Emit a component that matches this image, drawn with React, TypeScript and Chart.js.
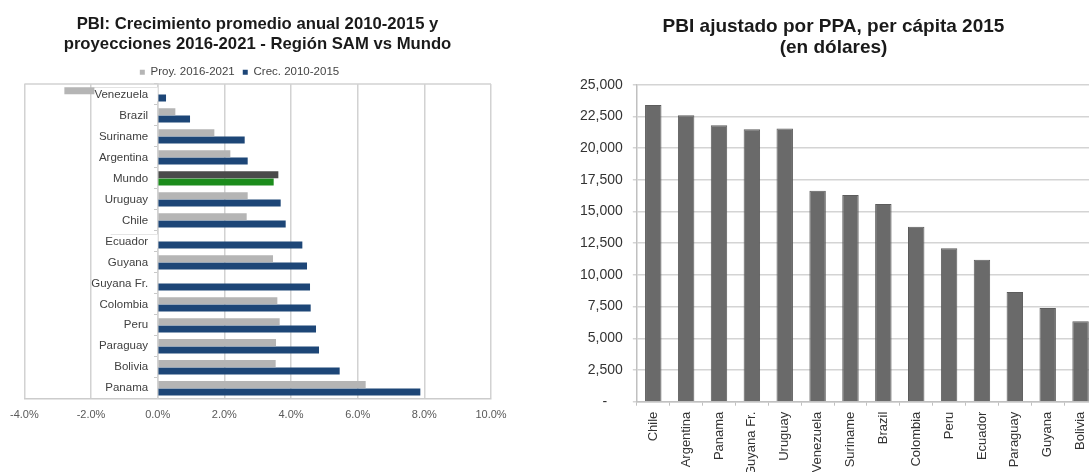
import React, { useEffect, useRef } from "react";
import { Chart, registerables } from "chart.js";

Chart.register(...registerables);

const growthCategories = ["Venezuela", "Brazil", "Suriname", "Argentina", "Mundo", "Uruguay", "Chile", "Ecuador", "Guyana", "Guyana Fr.", "Colombia", "Peru", "Paraguay", "Bolivia", "Panama"];
const proyValues = [-2.8, 0.53, 1.7, 2.18, 3.62, 2.7, 2.67, -1.41, 3.46, null, 3.59, 3.66, 3.55, 3.54, 6.24];
const crecValues = [0.25, 0.97, 2.61, 2.7, 3.48, 3.69, 3.84, 4.34, 4.48, 4.57, 4.59, 4.75, 4.84, 5.46, 7.88];

const pppCategories = ["Chile", "Argentina", "Panama", "Guyana Fr.", "Uruguay", "Venezuela", "Suriname", "Brazil", "Colombia", "Peru", "Ecuador", "Paraguay", "Guyana", "Bolivia"];
const pppValues = [23400, 22600, 21800, 21500, 21550, 16650, 16300, 15600, 13800, 12100, 11200, 8650, 7400, 6350];

const FONT = "'Liberation Sans', Arial, Helvetica, sans-serif";

const legendShift = {
  id: "legendShift",
  afterLayout(chart: any, _args: any, opts: any) {
    const lg = chart.legend;
    if (!lg || !opts) return;
    const dx = opts.dx || 0;
    const dy = opts.dy || 0;
    lg.left += dx;
    lg.right += dx;
    lg.top += dy;
    lg.bottom += dy;
  },
};

const frame = {
  id: "frame",
  beforeDatasetsDraw(chart: any, _args: any, opts: any) {
    if (!opts || !opts.color) return;
    const { ctx, chartArea: a } = chart;
    ctx.save();
    ctx.strokeStyle = opts.color;
    ctx.lineWidth = opts.width || 1;
    ctx.beginPath();
    ctx.moveTo(a.left, a.top);
    ctx.lineTo(a.right, a.top);
    ctx.stroke();
    ctx.restore();
  },
};

const isMundo = (c: any) => c.type === "data" && growthCategories[c.dataIndex] === "Mundo";

function GrowthChart() {
  const ref = useRef<HTMLCanvasElement | null>(null);
  useEffect(() => {
    if (!ref.current) return;
    const chart = new Chart(ref.current, {
      type: "bar",
      data: {
        labels: growthCategories,
        datasets: [
          {
            label: "Proy. 2016-2021",
            data: proyValues as any,
            backgroundColor: (c: any) => (isMundo(c) ? "#4a4a4a" : "#b5b5b5"),
            categoryPercentage: 0.7,
            barPercentage: 0.96,
          },
          {
            label: "Crec. 2010-2015",
            data: crecValues,
            backgroundColor: (c: any) => (isMundo(c) ? "#1c8c1c" : "#1d4677"),
            categoryPercentage: 0.7,
            barPercentage: 0.96,
          },
        ],
      },
      plugins: [legendShift, frame],
      options: {
        indexAxis: "y",
        animation: false,
        responsive: false,
        maintainAspectRatio: false,
        layout: { padding: { left: 24, right: 54, top: 0, bottom: 40 } },
        scales: {
          x: {
            min: -4,
            max: 10,
            ticks: {
              stepSize: 2,
              callback: (v: any) => Number(v).toFixed(1) + "%",
              color: "#595959",
              font: { size: 11, family: FONT },
              padding: 10,
            },
            grid: { color: "#d2d2d2", lineWidth: 1.5, drawTicks: false },
            border: { color: "#cccccc", width: 1.5 },
          },
          y: {
            position: { x: 0 } as any,
            ticks: {
              z: 1,
              color: "#404040",
              font: { size: 11.5, family: FONT },
              callback: (_v: any, i: number) => growthCategories[i] + "   ",
              showLabelBackdrop: true,
              backdropColor: (c: any) => {
                const v = proyValues[c.index];
                return v !== null && v !== undefined && v < 0 ? "#ffffff" : "rgba(255,255,255,0)";
              },
              backdropPadding: 0,
              padding: 8,
            },
            grid: { drawOnChartArea: false, tickLength: 3, color: "#c8c8c8" },
            border: { color: "#d2d2d2", width: 1.5 },
          },
        },
        plugins: {
          title: {
            display: true,
            text: ["PBI: Crecimiento promedio anual 2010-2015 y", "proyecciones 2016-2021 - Región SAM vs Mundo"],
            color: "#1a1a1a",
            font: { size: 16.7, weight: "bold", family: FONT, lineHeight: 1.18 },
            padding: { top: 15, bottom: 0 },
          },
          legend: {
            labels: {
              boxWidth: 5,
              boxHeight: 5,
              color: "#444444",
              font: { size: 11.5, family: FONT },
              padding: 8,
            },
          },
          tooltip: { enabled: false },
          legendShift: { dx: -18, dy: 4 },
          frame: { color: "#d2d2d2", width: 1.5 },
        } as any,
      },
    } as any);
    return () => chart.destroy();
  }, []);
  return <canvas ref={ref} width={545} height={472} style={{ position: "absolute", left: 0, top: 0, width: 545, height: 472 }} />;
}

function PppChart() {
  const ref = useRef<HTMLCanvasElement | null>(null);
  useEffect(() => {
    if (!ref.current) return;
    const chart = new Chart(ref.current, {
      type: "bar",
      data: {
        labels: pppCategories,
        datasets: [
          {
            label: "PBI PPA per cápita 2015",
            data: pppValues,
            backgroundColor: "#6a6a6a",
            borderColor: "#5c5c5c",
            borderWidth: 1,
            categoryPercentage: 1,
            barPercentage: 0.5,
          },
        ],
      },
      options: {
        animation: false,
        responsive: false,
        maintainAspectRatio: false,
        layout: { padding: { left: 25, right: 36, top: 0, bottom: 8 } },
        scales: {
          y: {
            min: 0,
            max: 25000,
            ticks: {
              stepSize: 2500,
              callback: (v: any) => (Number(v) === 0 ? "-    " : Number(v).toLocaleString("en-US")),
              color: "#333333",
              font: { size: 14, family: FONT },
              padding: 10,
            },
            grid: { color: "#d4d4d4", lineWidth: 1.5, tickLength: 4 },
            border: { color: "#c0c0c0", width: 1.5 },
          },
          x: {
            ticks: {
              minRotation: 90,
              maxRotation: 90,
              autoSkip: false,
              color: "#333333",
              font: { size: 13, family: FONT },
              padding: 6,
            },
            grid: { drawOnChartArea: false, tickLength: 4, color: "#c0c0c0" },
            border: { color: "#c0c0c0", width: 1.5 },
          },
        },
        plugins: {
          title: {
            display: true,
            text: ["PBI ajustado por PPA, per cápita 2015", "(en dólares)"],
            color: "#1a1a1a",
            font: { size: 19, weight: "bold", family: FONT, lineHeight: 1.1 },
            padding: { top: 16, bottom: 27 },
          },
          legend: { display: false },
          tooltip: { enabled: false },
        },
      },
    } as any);
    return () => chart.destroy();
  }, []);
  return <canvas ref={ref} width={588} height={490} style={{ position: "absolute", left: 545, top: 0, width: 588, height: 490 }} />;
}

export default function App() {
  return (
    <div style={{ position: "absolute", left: 0, top: 0, width: 1089, height: 472, overflow: "hidden", background: "#ffffff" }}>
      <GrowthChart />
      <PppChart />
    </div>
  );
}
